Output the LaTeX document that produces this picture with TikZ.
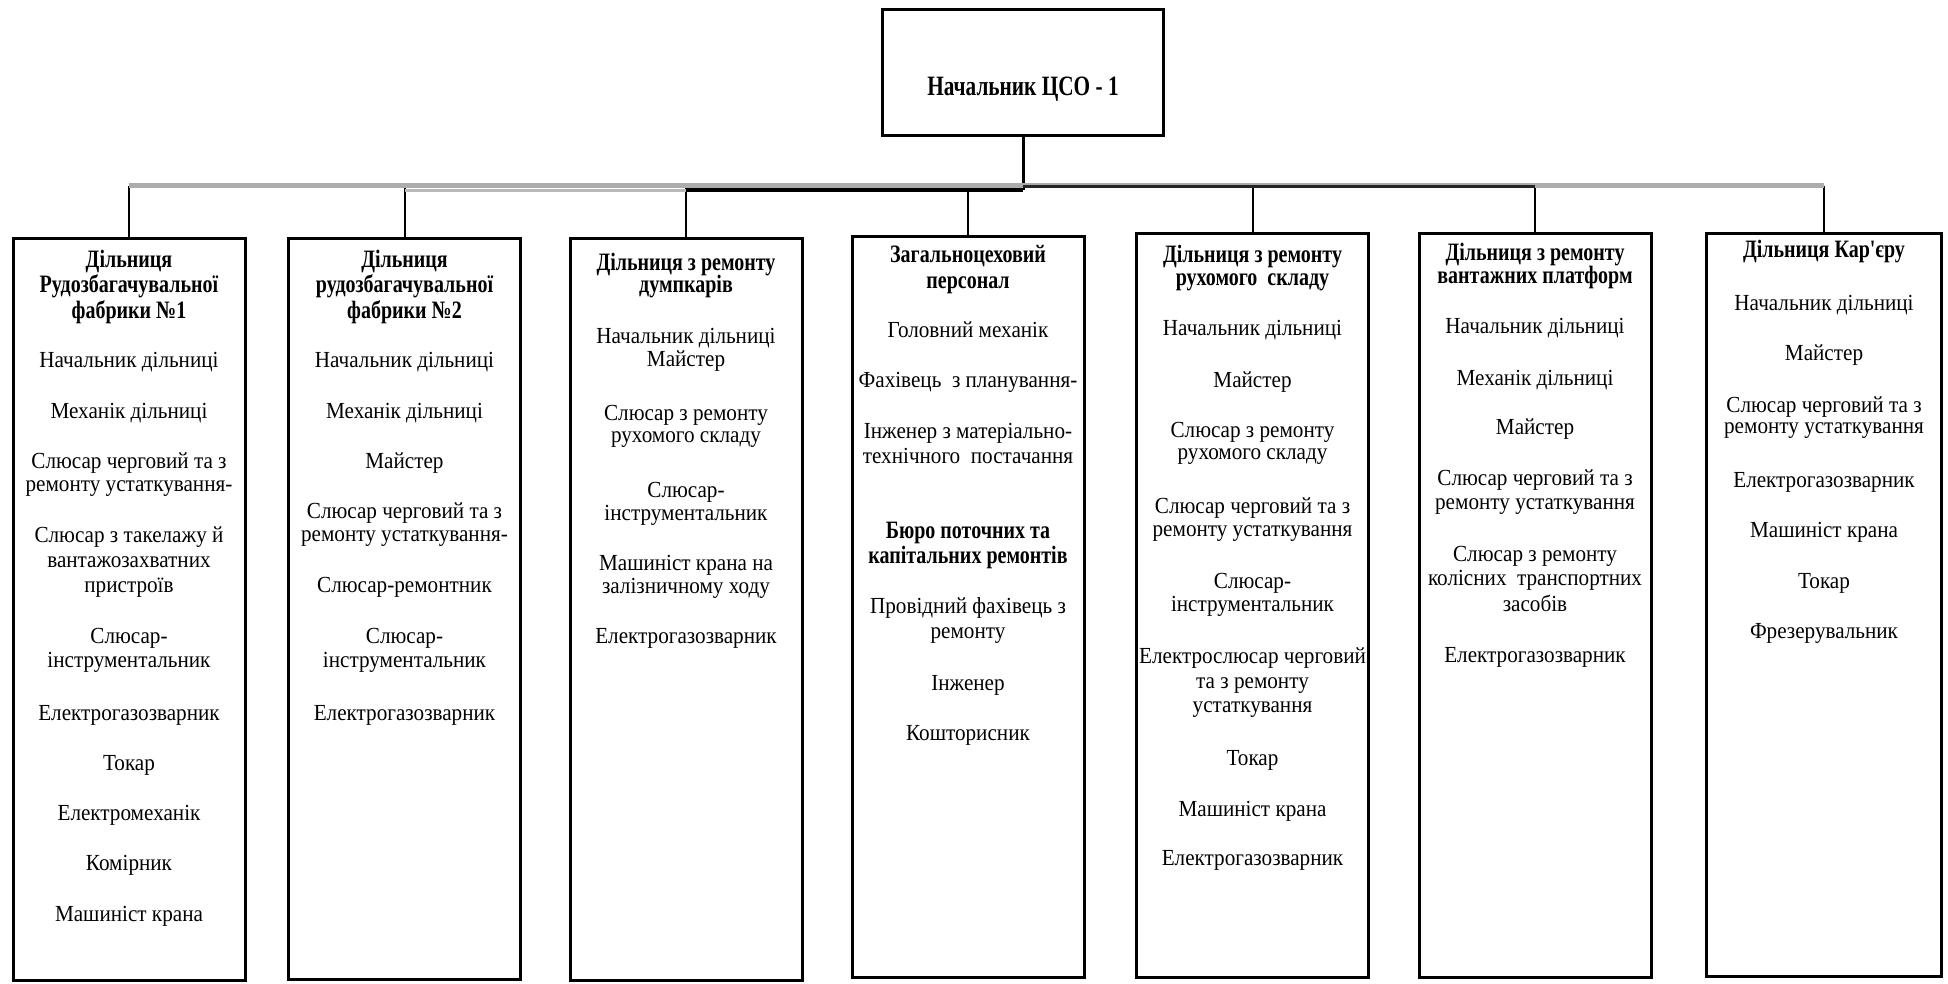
\documentclass[tikz,border=0pt]{standalone}
\usepackage{fontspec}
\setmainfont{Liberation Serif}
\newfontfamily\regf{Liberation Serif}[FakeStretch=0.92]
\newfontfamily\bldf{Liberation Serif}[FakeStretch=0.80]
\newfontfamily\topf{Liberation Serif}[FakeStretch=0.76]
\tikzset{
  box/.style={draw, line width=3pt, minimum width=232pt, inner sep=0pt, outer sep=0pt},
  headbox/.style={draw, line width=3pt, minimum width=281pt, minimum height=126pt, inner sep=0pt, outer sep=0pt},
  reg/.style={anchor=base, inner sep=0pt, font=\regf\fontsize{23}{23}\selectfont},
  bld/.style={anchor=base, inner sep=0pt, font=\bldf\bfseries\fontsize{25}{25}\selectfont},
  toptext/.style={anchor=base, inner sep=0pt, font=\topf\bfseries\fontsize{28}{28}\selectfont},
  conn/.style={line width=2pt, black},
}
\begin{document}
\begin{tikzpicture}[x=1pt, y=-1pt]
\fill[white] (0,0) rectangle (1948,983);
\useasboundingbox (0,0) rectangle (1948,983);

% head
\node[headbox] (top) at (1023,72.5) {};
\node[toptext] (toptxt) at (1023,95) {Начальник ЦСО - 1};

% boxes
\node[box, minimum height=742pt]   (b1) at (129,609.5) {};
\node[box, minimum height=740.5pt] (b2) at (404.5,608.75) {};
\node[box, minimum height=742pt]   (b3) at (686,609.5) {};
\node[box, minimum height=740.5pt] (b4) at (968,606.75) {};
\node[box, minimum height=743.5pt] (b5) at (1252.5,605.25) {};
\node[box, minimum height=743.5pt] (b6) at (1535,605.25) {};
\node[box, minimum height=742.5pt, minimum width=235pt] (b7) at (1824,604.75) {};

% connectors
\coordinate (busA) at (0,185.5);
\coordinate (busB) at (0,190);
\coordinate (busC) at (0,186.5);
\draw[line width=3pt, black] (top.south) -- (top.south |- busB);
\foreach \b in {b1,b2,b3,b4,b5,b6,b7}
  \draw[conn] (\b.north) -- (\b.north |- busA);
\draw[line width=5pt, gray!65] (b1.north |- busA) -- (b7.north |- busA);
\draw[line width=3pt, gray!55] (b2.north |- busB) -- (b3.north |- busB);
\draw[line width=3.5pt, black] (b3.north |- busB) -- (top.south |- busB);
\draw[line width=3pt, black!85] (top.south |- busC) -- (b6.north |- busC);

% box 1
\foreach \y/\t [count=\i] in {267/Дільниця, 292/Рудозбагачувальної, 318/фабрики №1}
  \node[bld] (h1-\i) at (129,\y) {\t};
\foreach \y/\t [count=\i] in {367/Начальник дільниці, 418/Механік дільниці,
  468/Слюсар черговий та з, 491/ремонту устаткування-, 542/Слюсар з такелажу й,
  567/вантажозахватних, 592/пристроїв, 643/Слюсар-, 667/інструментальник,
  720/Електрогазозварник, 770/Токар, 820/Електромеханік, 870/Комірник, 921/Машиніст крана}
  \node[reg] (r1-\i) at (129,\y) {\t};

% box 2
\foreach \y/\t [count=\i] in {267/Дільниця, 292/рудозбагачувальної, 318/фабрики №2}
  \node[bld] (h2-\i) at (404.5,\y) {\t};
\foreach \y/\t [count=\i] in {367/Начальник дільниці, 418/Механік дільниці, 468/Майстер,
  518/Слюсар черговий та з, 541/ремонту устаткування-, 592/Слюсар-ремонтник,
  643/Слюсар-, 667/інструментальник, 720/Електрогазозварник}
  \node[reg] (r2-\i) at (404.5,\y) {\t};

% box 3
\foreach \y/\t [count=\i] in {270/Дільниця з ремонту, 292/думпкарів}
  \node[bld] (h3-\i) at (686,\y) {\t};
\foreach \y/\t [count=\i] in {343/Начальник дільниці, 366/Майстер, 420/Слюсар з ремонту,
  442/рухомого складу, 497/Слюсар-, 520/інструментальник, 570/Машиніст крана на,
  593/залізничному ходу, 643/Електрогазозварник}
  \node[reg] (r3-\i) at (686,\y) {\t};

% box 4
\foreach \y/\t [count=\i] in {262/Загальноцеховий, 288/персонал, 538/Бюро поточних та, 563/капітальних ремонтів}
  \node[bld] (h4-\i) at (968,\y) {\t};
\foreach \y/\t [count=\i] in {337/Головний механік, 387/Фахівець\ \ з планування-,
  438/Інженер з матеріально-, 463/технічного\ \ постачання, 613/Провідний фахівець з,
  638/ремонту, 690/Інженер, 740/Кошторисник}
  \node[reg] (r4-\i) at (968,\y) {\t};

% box 5
\foreach \y/\t [count=\i] in {262/Дільниця з ремонту, 285/рухомого\ \ складу}
  \node[bld] (h5-\i) at (1252.5,\y) {\t};
\foreach \y/\t [count=\i] in {335/Начальник дільниці, 387/Майстер, 437/Слюсар з ремонту,
  459/рухомого складу, 513/Слюсар черговий та з, 536/ремонту устаткування,
  588/Слюсар-, 611/інструментальник, 663/Електрослюсар черговий, 688/та з ремонту,
  712/устаткування, 765/Токар, 816/Машиніст крана, 865/Електрогазозварник}
  \node[reg] (r5-\i) at (1252.5,\y) {\t};

% box 6
\foreach \y/\t [count=\i] in {260/Дільниця з ремонту, 283/вантажних платформ}
  \node[bld] (h6-\i) at (1535,\y) {\t};
\foreach \y/\t [count=\i] in {333/Начальник дільниці, 385/Механік дільниці, 434/Майстер,
  485/Слюсар черговий та з, 509/ремонту устаткування, 561/Слюсар з ремонту,
  585/колісних\ \ транспортних, 611/засобів, 662/Електрогазозварник}
  \node[reg] (r6-\i) at (1535,\y) {\t};

% box 7
\node[bld] (h7-1) at (1824,257) {Дільниця Кар'єру};
\foreach \y/\t [count=\i] in {310/Начальник дільниці, 360/Майстер, 412/Слюсар черговий та з,
  433/ремонту устаткування, 487/Електрогазозварник, 537/Машиніст крана, 588/Токар,
  638/Фрезерувальник}
  \node[reg] (r7-\i) at (1824,\y) {\t};
\end{tikzpicture}
\end{document}
